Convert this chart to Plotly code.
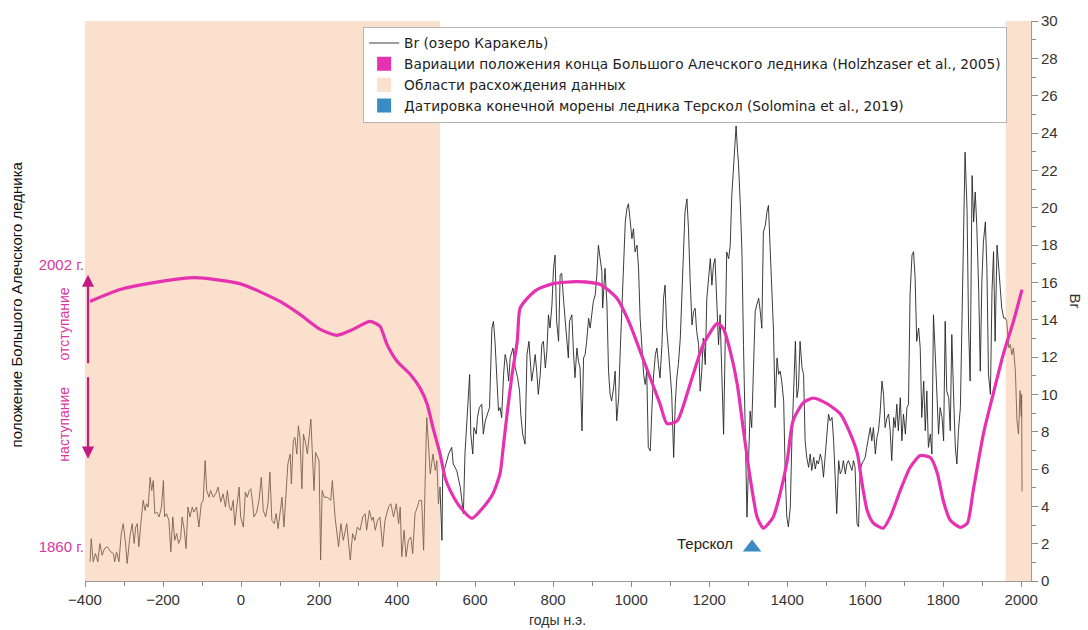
import plotly.graph_objects as go

# Br record from Lake Karakel (years CE, Br units)
YEARS = [
    -387, -384, -379, -373, -367, -362, -356, -350, -343, -334, -327, -324, -319, -313,
    -307, -302, -296, -292, -285, -279, -274, -270, -266, -262, -256, -251, -246, -242,
    -238, -233, -229, -225, -221, -216, -210, -204, -199, -196, -191, -185, -180, -175,
    -170, -165, -160, -155, -151, -146, -141, -136, -131, -125, -121, -114, -108, -102,
    -97, -92, -88, -82, -78, -71, -65, -59, -52, -46, -40, -35, -30, -25, -20, -16, -11,
    -5, -1, 6, 11, 16, 21, 25, 29, 33, 40, 46, 52, 57, 63, 69, 74, 79, 85, 90, 95, 100,
    105, 110, 115, 120, 126, 129, 134, 138, 143, 147, 151, 156, 160, 166, 170, 175, 179,
    184, 187, 191, 196, 200, 204, 208, 213, 221, 230, 234,
    241, 250, 256, 262, 271, 280, 286, 292, 298, 305, 312, 318, 322, 329, 335, 339, 344,
    350, 356, 363, 369, 378, 384, 391, 398, 404, 408, 412, 418, 423, 429, 435, 440, 446,
    452, 457, 463, 468, 472, 476, 480, 485, 492, 498, 502, 506, 510, 515, 517,
    523, 532, 540, 544, 553, 562, 566, 570, 574, 579, 583, 586, 589, 594, 597, 603, 606,
    611, 617, 621, 626, 632, 637, 643, 647, 651, 656, 660, 664, 668, 673, 677, 681, 686,
    690, 697, 703, 709, 714, 717, 722, 728, 733, 738, 741, 745, 750, 754, 758, 762, 767,
    771, 775, 780, 784, 788, 792, 797, 801, 805, 809, 814, 818, 822, 827, 831, 835, 839,
    842, 848, 852, 856, 861, 865, 869, 874, 878, 882, 886, 891, 895, 899, 903, 908, 912,
    916, 921, 925, 927, 933, 938, 942, 946, 950, 955, 959, 963, 968, 972, 976, 980, 985,
    989,
    993, 997, 1002, 1006, 1010, 1015, 1019, 1023, 1027, 1032, 1036, 1040, 1044, 1049,
    1053, 1057, 1062, 1066, 1070, 1074, 1079, 1083, 1087, 1091, 1096, 1100, 1104, 1109,
    1113, 1117, 1121, 1126, 1130, 1134, 1138, 1143, 1147, 1151, 1156, 1160, 1164, 1168,
    1173, 1177, 1181, 1185, 1190, 1194, 1198, 1203, 1207, 1211, 1215, 1220, 1224, 1228,
    1232, 1237, 1241, 1245, 1250, 1254, 1258, 1262, 1267, 1269, 1273, 1275, 1280, 1284,
    1288, 1292, 1297, 1301, 1305, 1309, 1314, 1318, 1322, 1327, 1331, 1335, 1339, 1344,
    1348, 1352, 1356, 1361,
    1365, 1369, 1374, 1378, 1382, 1386, 1391, 1395, 1399, 1403, 1408, 1412, 1416, 1421,
    1425, 1429, 1433, 1438, 1442, 1446, 1450, 1455, 1459, 1463, 1468, 1472, 1476, 1480,
    1485, 1489, 1493, 1497, 1502, 1506, 1510, 1515, 1519, 1523, 1527, 1532, 1536, 1540,
    1544, 1549, 1553, 1557, 1562, 1566, 1570, 1574, 1579, 1583, 1587, 1591, 1596, 1600,
    1604, 1609, 1613, 1617, 1621, 1626, 1630, 1634, 1638, 1643, 1647, 1651, 1656, 1660,
    1664, 1668, 1673, 1677, 1681, 1685, 1690, 1694, 1698, 1703, 1707, 1711, 1715, 1720,
    1724, 1728, 1732, 1737, 1741, 1745, 1750, 1754, 1758, 1762, 1767, 1771, 1775, 1780,
    1784, 1788, 1792, 1797, 1801, 1805, 1809, 1814, 1818, 1822, 1827, 1831, 1835, 1839,
    1844, 1848, 1852, 1856, 1861, 1865, 1869, 1874, 1878, 1882, 1886, 1891, 1895, 1899,
    1903, 1908, 1912, 1916, 1921, 1925, 1929, 1933, 1938, 1942, 1946, 1950, 1955, 1959,
    1963, 1968, 1972, 1976, 1980, 1985, 1989, 1993, 1997, 2000, 2001, 2002,
]
BR = [
    1.03, 2.27, 1.03, 1.47, 1.03, 2.01, 1.38, 1.74, 1.83, 1.56, 1.47, 1.03, 1.56, 1.03,
    2.54, 3.07, 2.01, 0.94, 2.36, 3.07, 2.01, 2.89, 3.07, 1.83, 3.25, 4.32, 3.78, 4.14,
    3.96, 5.56, 4.85, 5.38, 3.61, 3.69, 3.43, 3.96, 5.38, 3.43, 3.61, 3.25, 1.56, 3.43,
    2.18, 2.54, 2.01, 2.27, 3.43, 2.81, 1.74, 3.96, 3.43, 3.96, 3.69, 3.96, 2.89, 4.14,
    4.32, 6.45, 4.85, 4.49, 4.85, 4.49, 4.67, 5.03, 4.23, 4.67, 3.96, 4.85, 3.96, 3.78,
    4.32, 2.98, 3.96, 5.03, 3.43, 2.89, 4.76, 4.49, 4.85, 4.94, 4.32, 3.43, 3.69, 4.32,
    5.56, 3.78, 3.43, 4.14, 5.83, 3.25, 3.07, 3.61, 2.81, 3.78, 4.49, 2.89, 4.49, 6.27,
    6.80, 5.20, 7.51, 7.69, 6.80, 8.31, 7.69, 4.94, 7.87, 7.34, 6.80, 7.69, 8.67, 6.27,
    4.85, 6.89, 6.62, 6.45, 1.12, 4.85, 4.49, 4.49, 4.32, 5.38,
    3.43, 1.83, 3.07, 2.18, 3.07, 1.12, 2.54, 2.18, 2.89, 2.72, 3.43, 3.61, 2.72, 3.78,
    3.25, 3.43, 2.72, 3.25, 3.43, 1.83, 3.25, 3.96, 4.14, 3.43, 4.14, 3.07, 3.96, 1.30,
    2.72, 1.30, 2.18, 2.36, 1.47, 3.61, 3.96, 4.32, 4.32, 1.65, 5.38, 8.76, 7.51, 5.74,
    6.80, 5.92, 6.45, 4.14, 5.03, 2.18, 5.74,
    6.09, 6.80, 7.16, 6.27, 5.91, 5.02, 4.31, 3.60, 6.80, 8.58, 9.82, 11.06, 7.87, 6.80,
    8.22, 7.87, 8.75, 9.29, 9.47, 7.87, 8.58, 8.93, 9.29, 13.55, 13.91, 12.84, 11.06,
    9.11, 9.29, 8.75, 11.06, 12.13, 11.77, 10.71, 11.95, 12.48, 11.42, 10.89, 10.18,
    8.93, 7.87, 7.33, 12.13, 12.84, 11.95, 10.71, 11.42, 12.13, 11.24, 10.00, 11.06,
    12.66, 12.84, 11.42, 12.31, 14.26, 13.55, 14.79, 16.75, 17.46, 13.91, 12.84, 16.39,
    16.48, 14.97, 14.08, 13.02, 11.95, 13.91, 14.26, 12.31, 10.89, 12.48, 11.77, 11.42,
    8.04, 11.95, 12.13, 12.84, 14.08, 13.55, 14.44, 14.97, 15.33, 16.39, 17.99, 17.10,
    16.57, 14.62, 16.75, 14.79, 11.24, 10.00, 9.64, 10.35, 11.24, 8.58, 9.82, 12.31,
    14.26, 16.75, 19.23, 19.94,
    20.21, 19.41, 18.34, 18.87, 17.63, 17.99, 16.74, 14.08, 12.66, 11.06, 10.53, 11.24,
    7.15, 6.97, 9.10, 10.88, 12.12, 12.48, 11.59, 10.88, 12.66, 15.14, 15.85, 13.54,
    12.30, 10.88, 9.99, 6.62, 9.46, 10.88, 11.59, 13.01, 15.14, 17.98, 19.76, 20.47,
    18.87, 16.21, 13.72, 14.43, 14.61, 13.37, 12.66, 10.17, 11.24, 13.01, 11.59, 15.14,
    16.21, 17.27, 15.85, 16.92, 17.27, 14.79, 12.66, 14.26, 11.59, 7.86, 12.66, 17.63,
    17.27, 17.98, 20.65, 21.89, 23.67, 24.38, 22.96, 22.43, 20.12, 17.63, 12.66, 9.10,
    3.42, 6.44, 9.10, 8.22, 12.30, 14.43, 14.79, 15.14, 14.43, 13.54, 18.70, 19.05,
    19.76, 20.12, 17.98, 15.14,
    13.38, 9.29, 11.95, 11.07, 11.24, 10.71, 9.65, 5.74, 3.43, 2.90, 3.96, 7.51, 10.18,
    12.84, 9.82, 10.36, 12.84, 11.42, 11.07, 7.51, 6.63, 6.09, 6.80, 5.92, 6.63, 6.00,
    6.45, 6.27, 6.80, 6.45, 5.56, 6.63, 7.87, 8.94, 8.58, 8.76, 7.51, 5.74, 3.61, 6.45,
    5.74, 5.92, 6.45, 5.74, 6.27, 6.45, 6.09, 5.92, 6.45, 6.09, 3.07, 2.90, 5.92, 6.27,
    6.45, 6.63, 7.16, 7.87, 8.22, 7.51, 8.22, 6.80, 7.69, 8.05, 8.94, 10.71, 10.00, 8.22,
    8.76, 8.94, 8.05, 6.45, 8.76, 8.22, 9.47, 8.05, 9.82, 7.51, 8.94, 7.87, 9.29, 9.47,
    15.33, 17.46, 17.64, 16.22, 12.84, 13.55, 12.49, 8.76, 10.71, 8.05, 10.18, 7.16,
    7.87, 6.80, 14.26, 11.95, 10.00, 7.87, 9.29, 8.76, 7.51, 13.91, 10.18, 9.82, 8.05,
    13.20, 9.65, 7.16, 6.27, 8.05, 9.29, 14.26, 18.17, 22.97, 19.95, 13.55, 10.71, 21.72,
    19.24, 20.84, 19.06, 15.51, 11.24, 16.04, 18.17, 19.24, 16.75, 11.07, 10.00, 15.51,
    17.64, 12.84, 17.99, 16.75, 15.51, 14.62, 14.09, 14.09, 13.91, 12.49, 12.67, 12.13,
    12.49, 11.24, 8.58, 7.87, 10.20, 8.80, 10.00, 4.80,
]

# Great Aletsch glacier terminus (0 = position of 1860, 1 = position of 2002)
GLACIER_YEARS = [
    -387, -310, -208, -118, -3, 100, 151, 203, 246, 287, 331, 356, 374, 400, 433, 459,
    477, 492, 510, 523, 536, 562, 592, 621, 646, 664, 672, 682, 695, 708, 715, 733, 759,
    800, 862, 921, 964, 997, 1023, 1049, 1074, 1092, 1118, 1151, 1185, 1221, 1236, 1254,
    1272, 1287, 1305, 1323, 1339, 1364, 1382, 1400, 1415, 1441, 1467, 1503, 1536, 1562,
    1580, 1592, 1605, 1621, 1646, 1664, 1690, 1715, 1741, 1767, 1785, 1800, 1818, 1844,
    1862, 1877, 1903, 1928, 1954, 1980, 2002,
]
GLACIER_POS = [
    0.870, 0.912, 0.940, 0.954, 0.933, 0.870, 0.824, 0.771, 0.750, 0.771, 0.799, 0.782,
    0.718, 0.658, 0.613, 0.563, 0.507, 0.423, 0.331, 0.246, 0.201, 0.141, 0.102, 0.141,
    0.190, 0.261, 0.352, 0.472, 0.613, 0.729, 0.845, 0.880, 0.912, 0.933, 0.940, 0.930,
    0.880, 0.789, 0.694, 0.599, 0.507, 0.437, 0.447, 0.577, 0.718, 0.792, 0.775, 0.694,
    0.577, 0.423, 0.246, 0.106, 0.067, 0.106, 0.190, 0.306, 0.447, 0.511, 0.528, 0.507,
    0.472, 0.401, 0.331, 0.225, 0.130, 0.085, 0.067, 0.106, 0.201, 0.282, 0.324, 0.317,
    0.261, 0.165, 0.095, 0.070, 0.085, 0.201, 0.401, 0.542, 0.683, 0.799, 0.912,
]
GLACIER_TICKS = [0, 1]
GLACIER_TICK_TEXT = ["1860 г.", "2002 г."]

# Intervals where the two records disagree
DIVERGENCE = [(-400, 510), (1960, 2025)]

# Terskol glacier terminal moraine date
TERSKOL_YEAR = 1310
TERSKOL_Y = 1.8

X_RANGE = [-400, 2025]
BR_RANGE = [0, 30]
GLACIER_RANGE = [-0.120, 1.863]

FONT = "Liberation Sans, Arial, sans-serif"
LEGEND_FONT = "DejaVu Sans, Liberation Sans, sans-serif"
MAGENTA = "#e631b0"
PINK_TEXT = "#d9379f"
ARROW = "#c41a84"
BEIGE = "#fbe0cd"
BLUE = "#3b8cc5"

fig = go.Figure()

fig.add_trace(go.Scatter(
    x=YEARS, y=BR, mode="lines", name="Br (озеро Каракель)",
    line=dict(color="#262626", width=0.9), hoverinfo="skip",
))

# translucent beige bands laid over the Br record
for a, b in DIVERGENCE:
    fig.add_trace(go.Scatter(
        x=[a, b, b, a, a], y=[BR_RANGE[0], BR_RANGE[0], BR_RANGE[1], BR_RANGE[1], BR_RANGE[0]],
        mode="lines", fill="toself", fillcolor="rgba(245,181,136,0.42)",
        line=dict(width=0), showlegend=False, hoverinfo="skip",
    ))

fig.add_trace(go.Scatter(
    x=[TERSKOL_YEAR], y=[TERSKOL_Y], mode="markers", showlegend=False,
    marker=dict(symbol="triangle-up", size=16, color=BLUE), hoverinfo="skip",
))

# legend swatches
for name, color in [
    ("Вариации положения конца Большого Алечского ледника (Holzhzaser et al., 2005)", MAGENTA),
    ("Области расхождения данных", BEIGE),
    ("Датировка конечной морены ледника Терскол (Solomina et al., 2019)", BLUE),
]:
    fig.add_trace(go.Scatter(
        x=[None], y=[None], mode="markers", name=name,
        marker=dict(symbol="square", size=14, color=color),
    ))

fig.add_trace(go.Scatter(
    x=GLACIER_YEARS, y=GLACIER_POS, yaxis="y2", mode="lines", showlegend=False,
    line=dict(color=MAGENTA, width=3.2, shape="spline", smoothing=0.6), hoverinfo="skip",
))

axis_font = dict(family=FONT, size=15, color="#333333")

fig.update_layout(
    width=1088, height=630,
    margin=dict(l=85, r=57, t=18, b=49),
    paper_bgcolor="white", plot_bgcolor="white",
    font=dict(family=FONT, size=15, color="#222222"),
    xaxis=dict(
        range=X_RANGE, tickmode="linear", tick0=-400, dtick=200,
        ticks="outside", ticklen=5, tickcolor="#8a8a8a",
        minor=dict(ticks="outside", dtick=100, ticklen=4, tickcolor="#8a8a8a"),
        showline=True, linecolor="#9a9a9a", linewidth=1,
        showgrid=False, zeroline=False, tickfont=axis_font,
    ),
    yaxis=dict(
        range=BR_RANGE, side="right", tickmode="linear", tick0=0, dtick=2,
        ticks="outside", ticklen=6, tickcolor="#8a8a8a",
        minor=dict(ticks="outside", dtick=1, ticklen=4, tickcolor="#8a8a8a"),
        showline=True, linecolor="#9a9a9a", linewidth=1,
        showgrid=False, zeroline=False, tickfont=axis_font,
    ),
    yaxis2=dict(
        range=GLACIER_RANGE, overlaying="y", side="left",
        tickmode="array", tickvals=GLACIER_TICKS, ticktext=GLACIER_TICK_TEXT,
        ticks="", showline=False, showgrid=False, zeroline=False,
        tickfont=dict(family=FONT, size=15, color=PINK_TEXT),
    ),
    legend=dict(
        x=0.294, y=0.99, xanchor="left", yanchor="top",
        bgcolor="white", bordercolor="#b5b5b5", borderwidth=1,
        font=dict(family=LEGEND_FONT, size=13.7, color="#222222"),
        tracegroupgap=0,
    ),
    showlegend=True,
)

annotations = [
    dict(text="годы н.э.", x=0.499, y=-0.069, xref="paper", yref="paper",
         xanchor="center", yanchor="middle", showarrow=False,
         font=dict(family=FONT, size=14, color="#333333")),
    dict(text="Br", x=1.0465, y=0.499, xref="paper", yref="paper", textangle=90,
         xanchor="center", yanchor="middle", showarrow=False,
         font=dict(family=FONT, size=15, color="#333333")),
    dict(text="положение Большого Алечского ледника", x=-0.0729, y=0.494,
         xref="paper", yref="paper", textangle=-90, xanchor="center", yanchor="middle",
         showarrow=False, font=dict(family=FONT, size=15, color="#111111")),
    dict(text="отступание", x=-0.0222, y=0.46, xref="paper", yref="paper",
         textangle=-90, xanchor="center", yanchor="middle", showarrow=False,
         font=dict(family=FONT, size=14, color=PINK_TEXT)),
    dict(text="наступание", x=-0.0222, y=0.281, xref="paper", yref="paper",
         textangle=-90, xanchor="center", yanchor="middle", showarrow=False,
         font=dict(family=FONT, size=14, color=PINK_TEXT)),
    dict(text="", x=0.0032, y=0.547, xref="paper", yref="paper",
         ax=0, ay=90, axref="pixel", ayref="pixel", showarrow=True,
         arrowhead=2, arrowsize=1.1, arrowwidth=2.2, arrowcolor=ARROW),
    dict(text="", x=0.0032, y=0.2185, xref="paper", yref="paper",
         ax=0, ay=-83, axref="pixel", ayref="pixel", showarrow=True,
         arrowhead=2, arrowsize=1.1, arrowwidth=2.2, arrowcolor=ARROW),
    dict(text="Терскол", x=TERSKOL_YEAR, y=TERSKOL_Y + 0.2, xref="x", yref="y",
         xanchor="right", yanchor="middle", xshift=-17, showarrow=False,
         font=dict(family=FONT, size=15, color="#222222")),
]
fig.update_layout(annotations=annotations)

fig.write_html("out.html")
